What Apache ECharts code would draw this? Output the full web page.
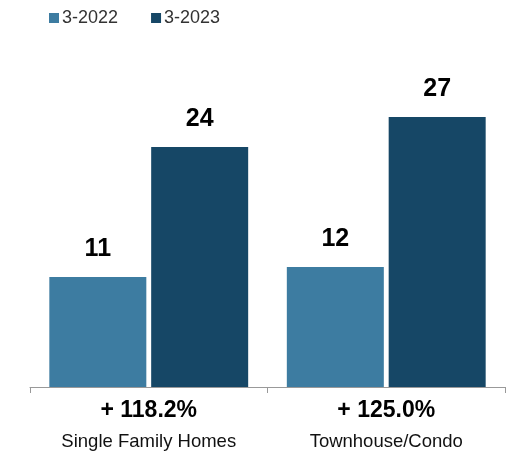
<!DOCTYPE html>
<html>
<head>
<meta charset="utf-8">
<script src="https://cdn.jsdelivr.net/npm/echarts@6/dist/echarts.min.js"></script>
<style>
    html, body { margin: 0; padding: 0; background: #fff; }
    #chart { width: 510px; height: 453px; }
</style>
</head>
<body>
<div id="chart"></div>
<script>
var categories = ['Single Family Homes', 'Townhouse/Condo'];
var changes = ['+ 118.2%', '+ 125.0%'];
var seriesNames = ['3-2022', '3-2023'];
var values2022 = [11, 12];
var values2023 = [24, 27];

var chart = echarts.init(document.getElementById('chart'));

var labelStyle = {
    show: true,
    position: 'top',
    distance: 15,
    color: '#000',
    fontFamily: 'Liberation Sans, Arial, sans-serif',
    fontWeight: 'bold',
    fontSize: 25
};

var option = {
    animation: false,
    color: ['#3d7ca1', '#164766'],
    legend: {
        left: 44,
        top: 4,
        itemWidth: 10,
        itemHeight: 10,
        itemGap: 33,
        icon: 'rect',
        textStyle: {
            color: '#333',
            fontSize: 18,
            fontFamily: 'Liberation Sans, Arial, sans-serif',
            padding: [0, 0, 0, -2]
        },
        data: seriesNames
    },
    grid: {
        left: 30,
        right: 5,
        top: 87,
        bottom: 66
    },
    xAxis: {
        type: 'category',
        data: categories,
        axisLine: { lineStyle: { color: '#999', width: 1 } },
        axisTick: { show: true, length: 6, lineStyle: { color: '#999' } },
        axisLabel: {
            margin: 8,
            interval: 0,
            formatter: function (val, idx) {
                return '{a|' + changes[idx] + '}\n{b|' + val + '}';
            },
            rich: {
                a: {
                    fontFamily: 'Liberation Sans, Arial, sans-serif',
                    fontWeight: 'bold',
                    fontSize: 23,
                    color: '#000',
                    lineHeight: 32
                },
                b: {
                    fontFamily: 'Liberation Sans, Arial, sans-serif',
                    fontSize: 18.5,
                    color: '#111',
                    lineHeight: 30
                }
            }
        }
    },
    yAxis: {
        type: 'value',
        min: 0,
        max: 30,
        show: false,
        splitLine: { show: false }
    },
    series: [
        {
            name: seriesNames[0],
            type: 'bar',
            barWidth: 97,
            barGap: '5%',
            data: values2022,
            label: labelStyle
        },
        {
            name: seriesNames[1],
            type: 'bar',
            barWidth: 97,
            data: values2023,
            label: labelStyle
        }
    ]
};

chart.setOption(option);
</script>
</body>
</html>
